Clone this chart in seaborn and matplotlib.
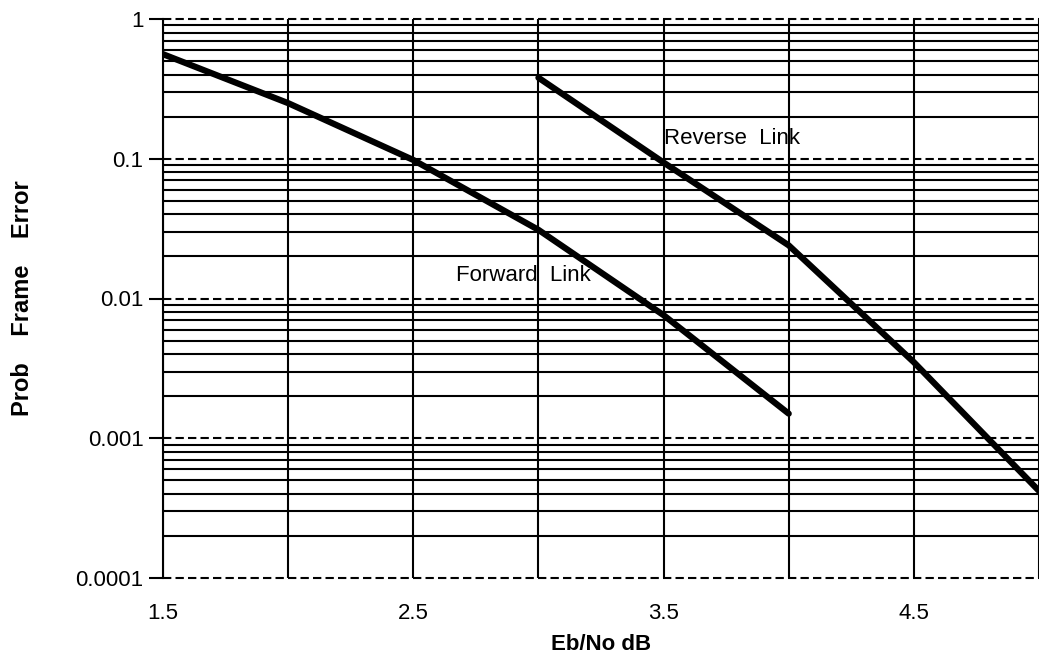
import numpy as np
import pandas as pd
import matplotlib
matplotlib.use("Agg")
import matplotlib.pyplot as plt
import seaborn as sns
from matplotlib.ticker import FixedLocator, NullFormatter

# values
forward_x = [1.5, 2.0, 2.5, 3.0, 3.5, 4.0]
forward_y = [0.56, 0.25, 0.098, 0.031, 0.0076, 0.0015]
reverse_x = [3.0, 3.5, 4.0, 4.5, 5.0]
reverse_y = [0.38, 0.094, 0.024, 0.0035, 0.00042]

x_ticks = [1.5, 2.5, 3.5, 4.5]
x_minor = [2.0, 3.0, 4.0, 5.0]
y_ticks = [0.0001, 0.001, 0.01, 0.1, 1]
y_labels = ["0.0001", "0.001", "0.01", "0.1", "1"]

df = pd.concat([
    pd.DataFrame({"x": forward_x, "y": forward_y, "link": "Forward Link"}),
    pd.DataFrame({"x": reverse_x, "y": reverse_y, "link": "Reverse Link"}),
])

sns.set_style("white")
plt.rcParams['font.family'] = ['Liberation Sans', 'DejaVu Sans']
plt.rcParams['text.color'] = 'black'
plt.rcParams['axes.labelcolor'] = 'black'
plt.rcParams['xtick.color'] = 'black'
plt.rcParams['ytick.color'] = 'black'

fig = plt.figure(figsize=(10.39, 6.56), dpi=100)
ax = fig.add_axes([163 / 1039, 78 / 656, 1 - 163 / 1039, 559 / 656])

# grid first
ax.set_yscale("log")
ax.set_xlim(1.5, 5.0)
ax.set_ylim(0.0001, 1)
minor_y = [m * 10.0 ** e for e in range(-4, 0) for m in range(2, 10)]
for v in minor_y:
    ax.axhline(v, color="black", lw=1.5, zorder=1)
for v in y_ticks:
    ax.axhline(v, color="black", lw=1.5, ls=(0, (4, 2)), zorder=1, clip_on=False)
for v in x_ticks + x_minor:
    ax.axvline(v, color="black", lw=1.5, zorder=1)

sns.lineplot(data=df, x="x", y="y", units="link", estimator=None,
             color="black", lw=4.5, ax=ax, legend=False, zorder=3)

ax.text(3.5, 0.14, "Reverse  Link", fontsize=16, va="center", ha="left")
ax.text(2.67, 0.0145, "Forward  Link", fontsize=16, va="center", ha="left")

ax.xaxis.set_major_locator(FixedLocator(x_ticks))
ax.set_xticklabels([str(t) for t in x_ticks])
ax.yaxis.set_major_locator(FixedLocator(y_ticks))
ax.set_yticklabels(y_labels)
ax.yaxis.set_minor_formatter(NullFormatter())
ax.yaxis.set_minor_locator(FixedLocator([]))
ax.tick_params(axis="y", which="major", length=10, width=1.5, color="black",
               direction="out", labelsize=16, pad=4, left=True)
ax.tick_params(axis="x", which="major", length=0, labelsize=16, pad=18, bottom=True)

for s in ["top", "right", "bottom"]:
    ax.spines[s].set_visible(False)
ax.spines["left"].set_color("black")
ax.spines["left"].set_linewidth(1.5)

ax.set_xlabel("Eb/No dB", fontsize=16, fontweight="bold")
ax.set_ylabel("Prob    Frame    Error", fontsize=17, fontweight="bold")
ax.yaxis.set_label_coords(-0.147, 0.5)
ax.xaxis.set_label_coords(0.5, -0.1)

fig.savefig("out.png", dpi=100)
